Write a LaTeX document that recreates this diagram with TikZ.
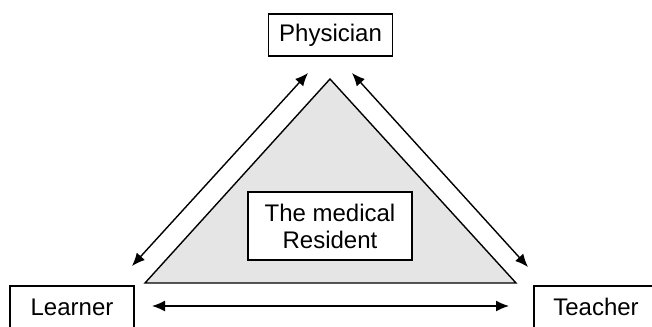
\documentclass[tikz,border=0pt]{standalone}
\usepackage{fontspec}
\setmainfont{Liberation Sans}
\usetikzlibrary{arrows.meta}
\tikzset{
  rolle/.style={draw,line width=0.7pt,minimum width=62pt,minimum height=21pt,inner sep=0pt,
                fill=white,font=\fontsize{12}{13.5}\selectfont},
  kozep/.style={rolle,minimum width=82pt,minimum height=34pt,align=center},
  haromszog/.style={draw,line width=0.7pt,fill=gray!20},
  kettos/.style={{Latex[length=6.5pt,width=5.5pt]}-{Latex[length=6.5pt,width=5.5pt]},line width=0.7pt},
}
\begin{document}
\begin{tikzpicture}[x=0.5pt,y=-0.5pt]
  \useasboundingbox (0,0) rectangle (652,326);
  % a haromszog
  \draw[haromszog] (330,79) coordinate (csucs) -- (516,283) coordinate (jobb)
    -- (145,283) coordinate (bal) -- cycle;
  % szerepek
  \node[rolle] (orvos) at (330.5,35) {Physician};
  \node[rolle] (tanulo) at (72,307) {Learner};
  \node[rolle] (tanar) at (596,307) {Teacher};
  \node[kozep] (rezidens) at (330,226) {The medical\\Resident};
  % nyilak vegpontjai
  \coordinate (o1) at (308,73); \coordinate (t1) at (132,266);
  \coordinate (o2) at (352,73); \coordinate (t2) at (528,267);
  \coordinate (b1) at (152,306); \coordinate (b2) at (509,306);
  \draw[kettos] (o1) -- (t1);
  \draw[kettos] (o2) -- (t2);
  \draw[kettos] (b1) -- (b2);
\end{tikzpicture}
\end{document}
